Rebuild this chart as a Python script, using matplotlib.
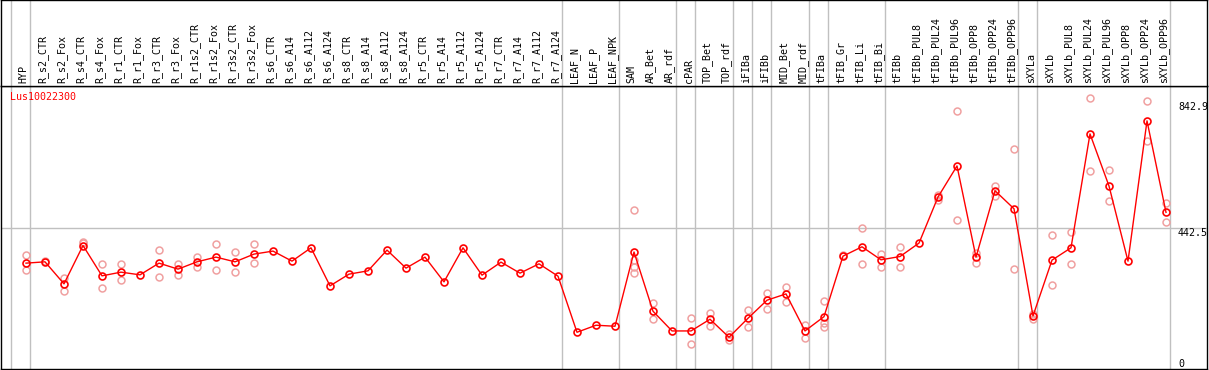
import numpy as np
import matplotlib
matplotlib.use("Agg")
import matplotlib.pyplot as plt
import matplotlib.transforms as mtransforms

# ================= data =================
GENE = "Lus10022300"

samples = ["HYP",
           "R_s2_CTR", "R_s2_Fox", "R_s4_CTR", "R_s4_Fox", "R_r1_CTR", "R_r1_Fox",
           "R_r3_CTR", "R_r3_Fox", "R_r1s2_CTR", "R_r1s2_Fox", "R_r3s2_CTR", "R_r3s2_Fox",
           "R_s6_CTR", "R_s6_A14", "R_s6_A112", "R_s6_A124",
           "R_s8_CTR", "R_s8_A14", "R_s8_A112", "R_s8_A124",
           "R_r5_CTR", "R_r5_A14", "R_r5_A112", "R_r5_A124",
           "R_r7_CTR", "R_r7_A14", "R_r7_A112", "R_r7_A124",
           "LEAF_N", "LEAF_P", "LEAF_NPK",
           "SAM", "AR_Bet", "AR_rdf", "cPAR", "TOP_Bet", "TOP_rdf",
           "iFIBa", "iFIBb", "MID_Bet", "MID_rdf", "tFIBa",
           "tFIB_Gr", "tFIB_Li", "tFIB_Bi",
           "tFIBb", "tFIBb_PUL8", "tFIBb_PUL24", "tFIBb_PUL96",
           "tFIBb_OPP8", "tFIBb_OPP24", "tFIBb_OPP96",
           "sXYLa", "sXYLb", "sXYLb_PUL8", "sXYLb_PUL24", "sXYLb_PUL96",
           "sXYLb_OPP8", "sXYLb_OPP24", "sXYLb_OPP96"]

means = [330.7,
         334.9, 264.7, 386.9, 290.2, 302.0, 293.4,
         330.7, 311.6, 334.9, 349.9, 334.9, 359.5,
         369.1, 337.1, 379.6, 258.3,
         295.6, 306.2, 372.3, 314.8,
         349.9, 271.0, 379.6, 292.4,
         333.9, 298.8, 328.5, 289.2,
         110.4, 132.8, 129.6,
         366.2, 177.5, 114.6, 114.6, 151.9, 94.5,
         155.1, 212.6, 232.7, 114.6, 160.2,
         353.1, 382.8, 341.3,
         351.8, 394.6, 541.5, 640.5,
         349.9, 561.6, 504.1,
         162.5, 340.3, 379.6, 742.6, 576.6,
         337.1, 784.2, 492.6]

# individual replicates (empty = hidden behind the mean)
replicates = [[357.2, 308.4],
              [338.0], [284.8, 241.3], [398.8, 393.4], [327.6, 250.9], [327.6, 278.4], [],
              [372.3, 286.0], [329.5, 292.4], [351.8, 319.9], [391.4, 310.3], [366.8, 302.0], [392.4, 330.7],
              [], [], [], [],
              [], [], [], [],
              [], [], [], [],
              [], [], [], [],
              [], [], [],
              [500.9, 341.3, 319.9, 298.8], [203.0, 151.9], [], [155.1, 72.1], [171.1, 130.5], [104.0, 85.8],
              [181.6, 128.3], [235.0, 185.8], [255.1, 208.1], [132.8, 93.2], [210.4, 139.2, 128.3],
              [357.0], [442.5, 327.6], [360.4, 318.0],
              [381.8, 318.0], [], [532.9, 548.8], [815.4, 469.0],
              [364.6, 332.7], [575.3, 543.4], [694.7, 311.6],
              [151.9, 167.9], [420.1, 260.5], [429.7, 328.5], [857.6, 624.5], [628.7, 528.7],
              [], [848.0, 721.3], [521.1, 461.7]]

# group separators: index of first sample of each group
group_starts = [0, 1, 29, 32, 35, 36, 38, 39, 40, 42, 43, 46, 53, 54, 61]

axis_labels = ["842.9", "442.5", "0"]
axis_values = [842.9, 442.5, 0.0]

# ================= layout =================
W, H = 1209, 370
HEAD = 85.5          # header height in px
MONO = "DejaVu Sans Mono"
FS = 7.2
GRID = "#c0c0c0"

fig = plt.figure(figsize=(W / 100, H / 100), dpi=100)
ax = fig.add_axes([1 / W, 1 / H, 1206 / W, (H - 1 - HEAD) / H])
hax = fig.add_axes([1 / W, (H - HEAD) / H, 1206 / W, HEAD / H])

x = np.arange(len(samples))
xmin, xmax = (1 - 26) / 19, (1207 - 26) / 19
for a in (ax, hax):
    a.set_xlim(xmin, xmax)
    a.set_xticks([])
    a.set_yticks([])
    for s in a.spines.values():
        s.set_color("black")
        s.set_linewidth(1)
    # column boundaries sit 15px left of each point
    for k in group_starts:
        a.axvline(k - 15 / 19, color=GRID, lw=1, zorder=1)

ax.set_ylim(-6.7, 896.9)
hax.set_ylim(0, 1)

ax.axhline(442.5, color=GRID, lw=1, zorder=1)

# replicates
for i, reps in enumerate(replicates):
    if reps:
        ax.plot([i] * len(reps), reps, linestyle="none", marker="o", ms=5,
                mfc="none", mec="#f0a0a0", mew=1.1, zorder=2)

# means
ax.plot(x, means, color="red", lw=1, marker="o", ms=5, mfc="none",
        mec="red", mew=1.2, zorder=3)

# gene id
ax.text(9 / 1206, 1 - 6 / (H - 1 - HEAD), GENE, transform=ax.transAxes,
        color="red", fontsize=FS, family=MONO, va="top", ha="left")

# right scale labels
tr = mtransforms.blended_transform_factory(ax.transAxes, ax.transData)
for lab, v in zip(axis_labels, axis_values):
    ax.text((1178 - 1) / 1206, v, lab, transform=tr, fontsize=FS, family=MONO,
            ha="left", va="top" if v > 0 else "baseline", color="black", zorder=4)

# sample names in header
for i, name in enumerate(samples):
    hax.text(i - 0.12, 0.03, name, rotation=90, ha="center", va="bottom",
             fontsize=FS, family=MONO, color="black")

fig.savefig("out.png", dpi=100)
